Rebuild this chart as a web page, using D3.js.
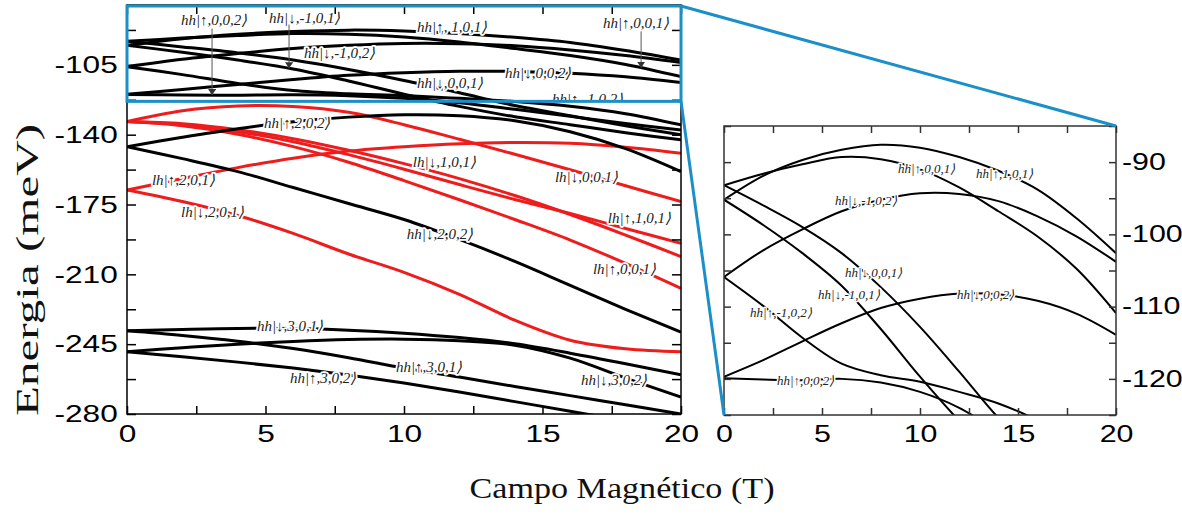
<!DOCTYPE html>
<html>
<head>
<meta charset="utf-8">
<script src="https://cdn.jsdelivr.net/npm/d3@7"></script>
<style>
  body { margin: 0; background: #fff; }
  .lbl { font-family: "Liberation Serif", "Times New Roman", serif; font-style: italic; fill: #222;
         paint-order: stroke; stroke: #fff; stroke-linejoin: round; }
  .tick text { font-family: "Liberation Sans", Arial, sans-serif; fill: #000; }
  .title { font-family: "Liberation Serif", "Times New Roman", serif; fill: #111; }
</style>
</head>
<body>
<div id="chart"></div>
<script>
// magnetic field grid (T), shared by every level below
var fieldT = [0, 2, 4, 6, 8, 10, 12, 14, 16, 18, 20];

// hh levels near the top (blue box + zoomed panel), meV
var hhUp101  = [-95.2, -91.9, -89.7, -88.3, -87.6, -88.0, -89.3, -91.2, -93.8, -97.8, -102.6];
var hhUp001  = [-93.2, -91.6, -90.3, -89.3, -89.6, -91.0, -93.5, -96.8, -100.3, -104.8, -110.9];
var hhDnM102 = [-105.9, -102.2, -99.3, -96.8, -95.2, -94.3, -94.4, -95.4, -97.5, -100.3, -103.8];
var hhUpM102 = [-105.9, -109.9, -114.3, -117.9, -119.5, -120.4, -121.8, -123.4, -125.8, -129.5, -135.1];
var hhDn002  = [-119.7, -117.4, -114.8, -112.3, -110.2, -108.9, -108.2, -108.3, -109.2, -111.0, -113.9];
var hhUp002  = [-119.9, -120.1, -120.2, -120.0, -120.5, -121.8, -124.0, -127.3, -130.8, -134.4, -137.6];
var hhDn001  = [-93.2, -96.0, -99.0, -102.6, -107.3, -112.8, -119.0, -125.4, -130.5, -135.5, -140.1];
var hhDnM101 = [-95.2, -98.7, -102.6, -107.1, -113.1, -119.7, -125.8, -131.0, -135.0, -139.0, -142.6];

// lh levels (red)
var lhDn001 = [-133.4, -128.0, -125.6, -125.9, -128.8, -135.0, -142.3, -149.8, -157.6, -165.6, -173.5];
var lhDn101 = [-133.4, -134.5, -137.5, -142.0, -147.8, -154.5, -162.0, -170.5, -180.0, -190.3, -201.1];
var lhUp101 = [-133.4, -135.0, -138.5, -143.5, -150.0, -157.3, -165.0, -172.5, -179.5, -187.0, -194.4];
var lhUp001 = [-133.4, -135.5, -139.8, -146.0, -153.8, -163.0, -172.6, -182.5, -192.8, -204.5, -217.0];
var lhUp201 = [-167.7, -162.0, -156.5, -151.8, -148.2, -146.0, -144.5, -143.9, -144.3, -146.3, -149.3];
var lhDn201 = [-167.7, -173.5, -180.5, -189.5, -199.8, -209.0, -220.0, -233.0, -243.0, -247.3, -248.8];

// deeper hh levels (black)
var hhUp202 = [-146.0, -141.3, -137.0, -133.5, -131.2, -130.0, -130.5, -133.0, -138.5, -147.0, -158.5];
var hhDn202 = [-146.0, -152.0, -158.5, -166.5, -174.5, -182.5, -192.5, -203.5, -215.5, -227.5, -239.0];
var hhDn301 = [-238.3, -237.6, -237.1, -237.2, -238.0, -239.5, -241.7, -244.8, -249.5, -254.8, -260.4];
var hhUp301 = [-238.3, -240.6, -243.5, -247.2, -251.8, -257.0, -261.5, -266.2, -270.8, -275.4, -280.0];
var hhDn302 = [-248.8, -246.8, -245.0, -243.6, -242.7, -242.5, -243.3, -245.5, -252.0, -262.0, -271.5];
var hhUp302 = [-248.8, -251.3, -254.0, -257.0, -260.5, -264.5, -269.0, -273.8, -278.6, -283.5, -288.0];

// ticks
var fieldTicks = [0, 2.5, 5, 7.5, 10, 12.5, 15, 17.5, 20];
var fieldLabels = [0, 5, 10, 15, 20];
var mainYTicks = [-87.5, -105, -122.5, -140, -157.5, -175, -192.5, -210, -227.5, -245, -262.5, -280];
var mainYLabels = [-105, -140, -175, -210, -245, -280];
var zoomYTicks = [-125, -120, -115, -110, -105, -100, -95, -90, -85];
var zoomYLabels = [-90, -100, -110, -120];
var boxLowE = -123.3;   // lower edge of the blue box (meV)

var topLevels = [hhUp101, hhUp001, hhDnM102, hhUpM102, hhDn002, hhUp002, hhDn001, hhDnM101];
var lhLevels = [lhDn001, lhDn101, lhUp101, lhUp001, lhUp201, lhDn201];
var deepLevels = [hhUp202, hhDn202, hhDn301, hhUp301, hhDn302, hhUp302];

// state labels: text, field (T), energy (meV) of the baseline start
var boxLabels = [
  ["hh|↑,0,0,2⟩", 1.95, -84.9], ["hh|↓,-1,0,1⟩", 5.13, -83.9], ["hh|↑, 1,0,1⟩", 10.47, -88.4],
  ["hh|↑,0,0,1⟩", 17.18, -86.4], ["hh|↓,-1,0,2⟩", 6.39, -101.5], ["hh|↓,0,0,2⟩", 13.65, -111.5],
  ["hh|↓,0,0,1⟩", 10.47, -116.5], ["hh|↑,-1,0,2⟩", 15.34, -124.6]
];
var mainLabels = [
  ["hh|↑,2,0,2⟩", 4.95, -136.6], ["lh|↑,2,0,1⟩", 0.9, -165.2], ["lh|↓,2,0,1⟩", 1.95, -181.2],
  ["lh|↓,1,0,1⟩", 10.32, -156.1], ["lh|↓,0,0,1⟩", 15.45, -163.7], ["lh|↑,1,0,1⟩", 17.36, -184.2],
  ["hh|↓,2,0,2⟩", 10.1, -192.2], ["lh|↑,0,0,1⟩", 16.82, -209.8], ["hh|↓,3,0,1⟩", 4.69, -238.4],
  ["hh|↑,3,0,1⟩", 9.71, -258.9], ["hh|↑,3,0,2⟩", 5.88, -264.5], ["hh|↓,3,0,2⟩", 16.39, -265.5]
];
var zoomLabels = [
  ["hh|↑,0,0,1⟩", 8.88, -91.5], ["hh|↑,1,0,1⟩", 12.86, -92.2], ["hh|↓,-1,0,2⟩", 5.66, -95.9],
  ["hh|↓,0,0,1⟩", 6.17, -105.9], ["hh|↓,-1,0,1⟩", 4.8, -108.9], ["hh|↑,-1,0,2⟩", 1.33, -111.4],
  ["hh|↓,0,0,2⟩", 11.89, -108.9], ["hh|↑,0,0,2⟩", 2.7, -120.8]
];
// arrows from a label down to its level: level, field, energy of arrow start
var boxArrows = [[hhUp002, 3.07, -86.8], [hhDnM101, 5.85, -84.8], [hhUp001, 18.56, -88.2]];

var svgWidth = 1182;
var svgHeight = 514;
var main = { left: 127, right: 681, top: 5, bottom: 414 };
var zoom = { left: 724, right: 1116, top: 126, bottom: 415 };
var blue = "#1b90c8";
var red = "#ee1c1c";

var svg = d3.select("#chart").append("svg")
  .attr("width", svgWidth)
  .attr("height", svgHeight);

var xMain = d3.scaleLinear().domain([0, 20]).range([main.left, main.right]);
var yMain = d3.scaleLinear().domain([-280, -75]).range([main.bottom, main.top]);
var xZoom = d3.scaleLinear().domain([0, 20]).range([zoom.left, zoom.right]);
var yZoom = d3.scaleLinear().domain([-125, -85]).range([zoom.bottom, zoom.top]);

var defs = svg.append("defs");
defs.append("clipPath").attr("id", "clipMain").append("rect")
  .attr("x", main.left).attr("y", main.top)
  .attr("width", main.right - main.left).attr("height", main.bottom - main.top);
defs.append("clipPath").attr("id", "clipZoom").append("rect")
  .attr("x", zoom.left).attr("y", zoom.top)
  .attr("width", zoom.right - zoom.left).attr("height", zoom.bottom - zoom.top);
defs.append("clipPath").attr("id", "clipBox").append("rect")
  .attr("x", xMain(0)).attr("y", main.top)
  .attr("width", xMain(20) - xMain(0)).attr("height", yMain(boxLowE) - main.top);
defs.append("marker")
  .attr("id", "arrow")
  .attr("viewBox", "0 0 6 8")
  .attr("refX", 6).attr("refY", 4)
  .attr("markerWidth", 6).attr("markerHeight", 8)
  .attr("markerUnits", "userSpaceOnUse")
  .attr("orient", "auto")
  .append("path").attr("d", "M0,0L6,4L0,8Z").attr("fill", "#333");

function levelLine(x, y) {
  return d3.line()
    .x((d, i) => x(fieldT[i]))
    .y(d => y(d))
    .curve(d3.curveCatmullRom.alpha(0.5));
}

function valueAt(level, t) {
  return d3.scaleLinear().domain(fieldT).range(level)(t);
}

// ---------- main panel ----------
var mainLine = levelLine(xMain, yMain);
var mainCurves = svg.append("g").attr("clip-path", "url(#clipMain)");

mainCurves.selectAll(".lh")
  .data(lhLevels).enter().append("path")
  .attr("d", mainLine)
  .attr("fill", "none").attr("stroke", red).attr("stroke-width", 3);

mainCurves.selectAll(".hh")
  .data(deepLevels.concat(topLevels)).enter().append("path")
  .attr("d", mainLine)
  .attr("fill", "none").attr("stroke", "#000").attr("stroke-width", 3);

mainCurves.selectAll(".mlbl")
  .data(mainLabels).enter().append("text")
  .attr("class", "lbl")
  .attr("x", d => xMain(d[1])).attr("y", d => yMain(d[2]))
  .attr("font-size", 15).attr("stroke-width", 3.5)
  .text(d => d[0]);

var boxGroup = svg.append("g").attr("clip-path", "url(#clipBox)");
boxGroup.selectAll(".blbl")
  .data(boxLabels).enter().append("text")
  .attr("class", "lbl")
  .attr("x", d => xMain(d[1])).attr("y", d => yMain(d[2]))
  .attr("font-size", 15).attr("stroke-width", 3.5)
  .text(d => d[0]);

boxGroup.selectAll(".arr")
  .data(boxArrows).enter().append("line")
  .attr("x1", d => xMain(d[1])).attr("x2", d => xMain(d[1]))
  .attr("y1", d => yMain(d[2])).attr("y2", d => yMain(valueAt(d[0], d[1])))
  .attr("stroke", "#555").attr("stroke-width", 1)
  .attr("marker-end", "url(#arrow)");

// main axes
function styleTicks(g, stroke, size) {
  g.select(".domain").remove();
  g.selectAll(".tick line").attr("stroke", stroke).attr("stroke-width", 1.5);
  g.selectAll(".tick text").attr("font-size", size).attr("transform", "scale(1.32,1)");
}
var fieldFmt = d => fieldLabels.includes(d) ? d : "";

svg.append("g").attr("transform", `translate(0, ${main.bottom})`)
  .call(d3.axisBottom(xMain).tickValues(fieldTicks).tickSize(-8).tickPadding(11).tickFormat(fieldFmt))
  .call(g => styleTicks(g, "#000", 24));
svg.append("g").attr("transform", `translate(0, ${main.top})`)
  .call(d3.axisTop(xMain).tickValues(fieldTicks).tickSize(-9).tickFormat(""))
  .call(g => styleTicks(g, "#000", 24));
svg.append("g").attr("transform", `translate(${main.left}, 0)`)
  .call(d3.axisLeft(yMain).tickValues(mainYTicks).tickSize(-9).tickPadding(7)
    .tickFormat(d => mainYLabels.includes(d) ? d : ""))
  .call(g => styleTicks(g, "#000", 24));
svg.append("g").attr("transform", `translate(${main.right}, 0)`)
  .call(d3.axisRight(yMain).tickValues(mainYTicks).tickSize(-9).tickFormat(""))
  .call(g => styleTicks(g, "#000", 24));

svg.append("rect")
  .attr("x", main.left).attr("y", main.top)
  .attr("width", main.right - main.left).attr("height", main.bottom - main.top)
  .attr("fill", "none").attr("stroke", "#000").attr("stroke-width", 1.5);

// ---------- zoomed panel ----------
var zoomLine = levelLine(xZoom, yZoom);
var zoomCurves = svg.append("g").attr("clip-path", "url(#clipZoom)");

zoomCurves.selectAll(".zl")
  .data(topLevels).enter().append("path")
  .attr("d", zoomLine)
  .attr("fill", "none").attr("stroke", "#000").attr("stroke-width", 2);

zoomCurves.selectAll(".zlbl")
  .data(zoomLabels).enter().append("text")
  .attr("class", "lbl")
  .attr("x", d => xZoom(d[1])).attr("y", d => yZoom(d[2]))
  .attr("font-size", 13).attr("stroke-width", 3)
  .text(d => d[0]);

svg.append("g").attr("transform", `translate(0, ${zoom.bottom})`)
  .call(d3.axisBottom(xZoom).tickValues(fieldTicks).tickSize(-7).tickPadding(11).tickFormat(fieldFmt))
  .call(g => styleTicks(g, "#333", 23));
svg.append("g").attr("transform", `translate(0, ${zoom.top})`)
  .call(d3.axisTop(xZoom).tickValues(fieldTicks).tickSize(-7).tickFormat(""))
  .call(g => styleTicks(g, "#333", 23));
svg.append("g").attr("transform", `translate(${zoom.left}, 0)`)
  .call(d3.axisLeft(yZoom).tickValues(zoomYTicks).tickSize(-7).tickFormat(""))
  .call(g => styleTicks(g, "#333", 23));
svg.append("g").attr("transform", `translate(${zoom.right}, 0)`)
  .call(d3.axisRight(yZoom).tickValues(zoomYTicks).tickSize(-7).tickPadding(4.5)
    .tickFormat(d => zoomYLabels.includes(d) ? d : ""))
  .call(g => styleTicks(g, "#333", 23));

svg.append("rect")
  .attr("x", zoom.left).attr("y", zoom.top)
  .attr("width", zoom.right - zoom.left).attr("height", zoom.bottom - zoom.top)
  .attr("fill", "none").attr("stroke", "#333").attr("stroke-width", 1.5);

// ---------- blue box and connectors ----------
var boxTop = main.top + 1;
var boxBottom = yMain(boxLowE);
svg.append("rect")
  .attr("x", xMain(0)).attr("y", boxTop)
  .attr("width", xMain(20) - xMain(0)).attr("height", boxBottom - boxTop)
  .attr("fill", "none").attr("stroke", blue).attr("stroke-width", 3);
svg.append("line")
  .attr("x1", xMain(20)).attr("y1", boxTop)
  .attr("x2", zoom.right).attr("y2", zoom.top)
  .attr("stroke", blue).attr("stroke-width", 3);
svg.append("line")
  .attr("x1", xMain(20)).attr("y1", boxBottom)
  .attr("x2", zoom.left).attr("y2", zoom.bottom)
  .attr("stroke", blue).attr("stroke-width", 3);

// ---------- axis titles ----------
svg.append("text")
  .attr("class", "title")
  .attr("transform", "translate(38, 270) rotate(-90)")
  .attr("text-anchor", "middle")
  .attr("font-size", 32)
  .attr("textLength", 292).attr("lengthAdjust", "spacingAndGlyphs")
  .text("Energia (meV)");

svg.append("text")
  .attr("class", "title")
  .attr("x", 622).attr("y", 498)
  .attr("text-anchor", "middle")
  .attr("font-size", 30)
  .attr("textLength", 305).attr("lengthAdjust", "spacingAndGlyphs")
  .text("Campo Magnético (T)");
</script>
</body>
</html>
